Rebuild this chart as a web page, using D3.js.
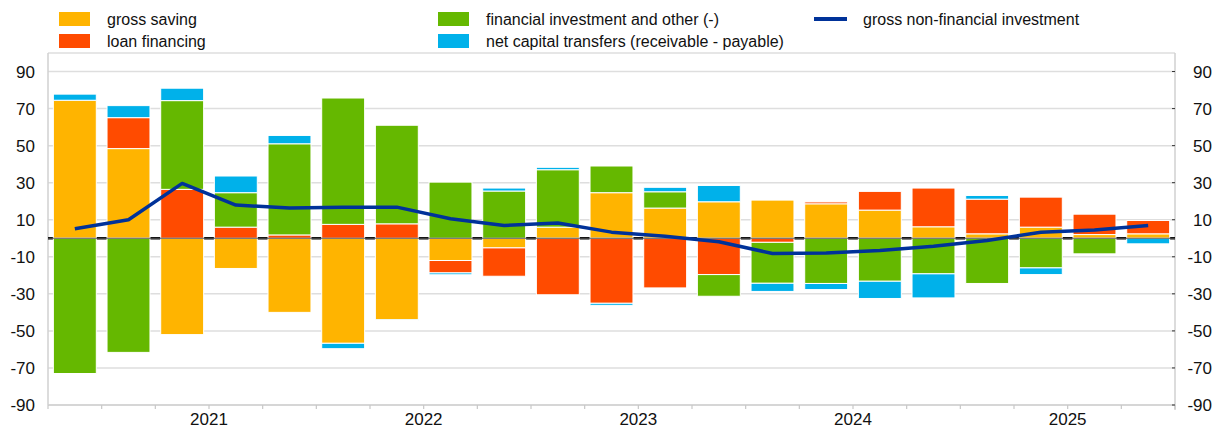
<!DOCTYPE html>
<html>
<head>
<meta charset="utf-8">
<script src="https://cdn.jsdelivr.net/npm/d3@7"></script>
<style>
  body { margin: 0; background: #fff; }
  svg { display: block; font-family: "Liberation Sans", Arial, Helvetica, sans-serif; }
</style>
</head>
<body>
<div id="chart"></div>
<script>
const quarters = ["2020Q4",
  "2021Q1", "2021Q2", "2021Q3", "2021Q4",
  "2022Q1", "2022Q2", "2022Q3", "2022Q4",
  "2023Q1", "2023Q2", "2023Q3", "2023Q4",
  "2024Q1", "2024Q2", "2024Q3", "2024Q4",
  "2025Q1", "2025Q2", "2025Q3", "2025Q4"];
const years = ["2021", "2022", "2023", "2024", "2025"];
const yTicks = [-90, -70, -50, -30, -10, 10, 30, 50, 70, 90];

const grossSaving = [74.5, 48.4, -52, -16.3, -40, -56.7, -44, -12, -5.2, 6, 24.6,
  16.3, 19.7, 20.6, 18.6, 15.2, 6.2, 2.4, 6, 2, 2.4];
const loanFinancing = [0, 16.7, 26.4, 6, 1.8, 7.5, 7.8, -6.7, -15.3, -30.5, -35.1,
  -26.8, -19.6, -2.2, 1, 10.1, 20.9, 18.7, 16.2, 11, 7.2];
const financialInvestment = [-73, -61.6, 47.9, 18.6, 49.2, 68.2, 53.2, 30.3, 25.5, 31, 14.4,
  8.8, -11.7, -22.1, -24.4, -23.2, -19.2, -24.4, -16, -8.4, 0];
const capitalTransfers = [3.3, 6.5, 6.7, 9, 4.5, -2.9, -0.4, -1, 1.6, 1.3, -1.1,
  2.4, 8.8, -4.4, -3.3, -9.3, -13, 2, -3.6, 0, -3];
const nonFinInvestment = [5.1, 10, 29.6, 17.9, 16.3, 16.8, 16.8, 10.5, 6.9, 8.2, 3.3,
  1.1, -1.9, -8.2, -7.9, -6.6, -4.3, -1.2, 3.3, 4.4, 6.9];

const seriesKeys = ["saving", "loan", "fin", "cap"];
const seriesNames = ["gross saving", "loan financing",
  "financial investment and other (-)", "net capital transfers (receivable - payable)"];
const colors = ["#ffb400", "#ff4b00", "#65b800", "#00b1ea"];
const lineColor = "#003299";
const lineName = "gross non-financial investment";

(function() {
  const width = 1215, height = 428;
  const margin = { top: 53, right: 40, bottom: 23, left: 48 };
  const innerW = width - margin.left - margin.right;
  const innerH = height - margin.top - margin.bottom;

  const svg = d3.select("#chart").append("svg")
    .attr("width", width).attr("height", height);

  const rows = quarters.map((q, i) => ({
    q: q, saving: grossSaving[i], loan: loanFinancing[i],
    fin: financialInvestment[i], cap: capitalTransfers[i]
  }));

  const stacked = d3.stack()
    .keys(seriesKeys)
    .offset(d3.stackOffsetDiverging)(rows);

  const xEdge = d3.scaleBand().domain(quarters).range([0, innerW]).padding(0);
  const x = d3.scaleBand().domain(quarters).range([0, innerW])
    .paddingInner(0.2).paddingOuter(0.1);
  const y = d3.scaleLinear().domain([-90, 100]).range([innerH, 0]);

  const g = svg.append("g").attr("transform", `translate(${margin.left},${margin.top})`);

  // grid
  g.append("g").selectAll("line").data(yTicks).join("line")
    .attr("x1", 0).attr("x2", innerW)
    .attr("y1", d => y(d)).attr("y2", d => y(d))
    .attr("stroke", "#dedede").attr("stroke-width", 1.5);

  // frame
  g.append("line").attr("x1", 0).attr("x2", innerW).attr("y1", 0).attr("y2", 0)
    .attr("stroke", "#dedede").attr("stroke-width", 1.5);
  g.append("line").attr("x1", 0).attr("x2", 0).attr("y1", 0).attr("y2", innerH)
    .attr("stroke", "#d0d0d0").attr("stroke-width", 1.5);
  g.append("line").attr("x1", innerW).attr("x2", innerW).attr("y1", 0).attr("y2", innerH + 5)
    .attr("stroke", "#d0d0d0").attr("stroke-width", 1.5);

  // zero line behind bars
  g.append("line").attr("x1", 0).attr("x2", innerW)
    .attr("y1", y(0)).attr("y2", y(0))
    .attr("stroke", "#000").attr("stroke-width", 2.5);

  // bars
  g.append("g").selectAll("g").data(stacked).join("g")
    .attr("fill", (d, i) => colors[i])
    .selectAll("rect").data(d => d).join("rect")
    .attr("x", d => x(d.data.q))
    .attr("width", x.bandwidth())
    .attr("y", d => y(Math.max(d[0], d[1])))
    .attr("height", d => Math.abs(y(d[0]) - y(d[1])))
    .attr("stroke", "#fff").attr("stroke-width", 1);

  // zero line over bars
  g.append("line").attr("x1", 0).attr("x2", innerW)
    .attr("y1", y(0)).attr("y2", y(0))
    .attr("stroke", "#555").attr("stroke-width", 1);

  // line
  const line = d3.line()
    .x((d, i) => x(quarters[i]) + x.bandwidth() / 2)
    .y(d => y(d));
  g.append("path").datum(nonFinInvestment)
    .attr("fill", "none").attr("stroke", lineColor)
    .attr("stroke-width", 3.5).attr("stroke-linejoin", "round")
    .attr("d", line);

  // bottom axis
  g.append("line").attr("x1", 0).attr("x2", innerW)
    .attr("y1", innerH).attr("y2", innerH)
    .attr("stroke", "#d0d0d0").attr("stroke-width", 1.5);
  const edges = quarters.map(q => xEdge(q)).concat([innerW]);
  g.append("g").selectAll("line").data(edges).join("line")
    .attr("x1", d => d).attr("x2", d => d)
    .attr("y1", innerH).attr("y2", innerH + 4)
    .attr("stroke", "#c8c8c8").attr("stroke-width", 1.2);

  g.append("g").selectAll("text").data(years).join("text")
    .attr("x", d => xEdge(d + "Q3"))
    .attr("y", innerH + 20)
    .attr("text-anchor", "middle")
    .attr("font-size", "17px").attr("fill", "#111")
    .text(d => d);

  // left axis labels
  g.append("g").selectAll("text").data(yTicks).join("text")
    .attr("x", -13).attr("y", d => y(d) + 6)
    .attr("text-anchor", "end")
    .attr("font-size", "17px").attr("fill", "#111")
    .text(d => d);

  // right axis ticks + labels
  g.append("g").selectAll("line").data(yTicks).join("line")
    .attr("x1", innerW - 3).attr("x2", innerW)
    .attr("y1", d => y(d)).attr("y2", d => y(d))
    .attr("stroke", "#333").attr("stroke-width", 1);
  g.append("g").selectAll("text").data(yTicks).join("text")
    .attr("x", innerW + 37).attr("y", d => y(d) + 6)
    .attr("text-anchor", "end")
    .attr("font-size", "17px").attr("fill", "#111")
    .text(d => d);

  // legend
  const legend = svg.append("g");
  const legendPos = [[59, 12], [59, 34], [438, 12], [438, 34]];
  seriesNames.forEach((name, i) => {
    const [lx, ly] = legendPos[i];
    legend.append("rect").attr("x", lx).attr("y", ly)
      .attr("width", 31).attr("height", 14).attr("fill", colors[i]);
    legend.append("text").attr("x", lx + 48).attr("y", ly + 13)
      .attr("font-size", "16px").attr("fill", "#111").text(name);
  });
  legend.append("line").attr("x1", 814).attr("x2", 847)
    .attr("y1", 19).attr("y2", 19)
    .attr("stroke", lineColor).attr("stroke-width", 4);
  legend.append("text").attr("x", 863).attr("y", 25)
    .attr("font-size", "16px").attr("fill", "#111").text(lineName);
})();
</script>
</body>
</html>
